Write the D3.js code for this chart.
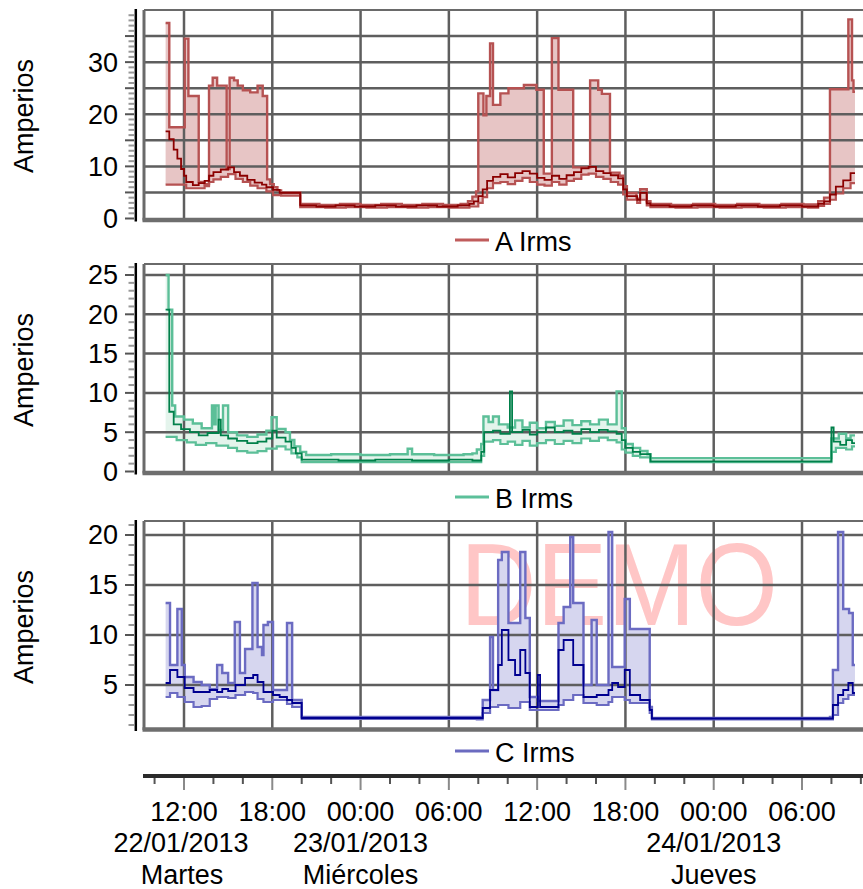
<!DOCTYPE html>
<html>
<head>
<meta charset="utf-8">
<script src="https://cdn.jsdelivr.net/npm/d3@7"></script>
<style>
  body { margin: 0; background: #fff; }
  svg { display: block; }
  text { font-family: "Liberation Sans", Arial, sans-serif; fill: #000; }
</style>
</head>
<body>
<div id="chart"></div>
<script>
// tiempos en horas desde 22/01/2013 00:00, valores en amperios
const aMax = [[10.75,37.5],[11.0,17.5],[12.05,34.5],[12.3,23.5],[13.0,7.0],[13.4,6.6],[13.7,25.5],[13.95,27.0],[14.25,25.5],[14.9,9.5],[15.1,27.0],[15.4,26.5],[15.65,25.5],[16.0,24.6],[16.5,24.2],[17.0,25.5],[17.35,23.5],[17.65,7.5],[17.85,6.6],[18.1,6.0],[18.35,5.4],[18.6,5.0],[19.9,2.8],[21.2,2.6],[22.6,2.8],[24.0,2.6],[25.4,2.8],[26.8,2.6],[28.2,2.8],[29.6,2.6],[30.8,2.8],[31.3,3.3],[31.6,4.2],[31.85,5.2],[32.0,24.0],[32.35,19.8],[32.55,23.5],[32.8,33.6],[33.0,21.8],[33.5,24.0],[34.05,25.0],[35.1,25.6],[35.95,24.7],[36.45,8.6],[37.0,34.6],[37.45,24.7],[38.45,9.8],[39.6,26.5],[40.15,24.7],[40.4,23.9],[40.95,8.8],[41.6,8.2],[41.85,6.2],[42.1,4.9],[42.75,3.8],[43.0,5.6],[43.45,3.3],[43.7,2.8],[45.1,2.6],[46.6,2.8],[48.1,2.6],[49.6,2.8],[51.1,2.6],[52.6,2.8],[54.1,2.7],[55.1,3.3],[55.5,4.0],[55.9,24.8],[57.15,38.2],[57.4,26.5],[57.5,24.3],[57.6,24.3]];
const aAvg = [[10.75,16.7],[11.0,15.2],[11.3,13.2],[11.55,11.5],[11.8,9.5],[12.0,8.2],[12.15,7.0],[12.6,6.4],[13.0,6.8],[13.4,7.2],[13.7,8.2],[14.0,8.9],[14.5,9.4],[15.0,9.8],[15.4,8.9],[15.8,8.2],[16.3,7.4],[16.8,6.9],[17.3,6.5],[17.6,6.0],[18.05,5.5],[18.5,4.9],[19.9,2.5],[21.0,2.3],[22.3,2.5],[23.6,2.3],[25.0,2.5],[26.4,2.3],[27.8,2.5],[29.2,2.3],[30.6,2.5],[31.4,2.8],[31.7,3.3],[32.0,4.3],[32.3,5.6],[32.6,7.2],[33.0,8.0],[33.5,8.5],[34.0,7.9],[34.5,8.7],[35.0,9.1],[35.5,8.6],[36.0,7.8],[36.5,7.4],[37.0,8.2],[37.5,7.6],[38.0,8.3],[38.5,8.9],[39.0,9.6],[39.5,9.9],[40.0,9.1],[40.5,8.7],[41.0,8.3],[41.5,7.7],[41.85,5.6],[42.1,4.3],[42.8,3.6],[43.0,4.9],[43.45,2.9],[43.7,2.5],[45.0,2.3],[46.5,2.5],[48.0,2.3],[49.5,2.5],[51.0,2.3],[52.5,2.5],[54.0,2.3],[55.1,2.8],[55.5,3.3],[55.9,4.6],[56.3,6.1],[56.8,7.3],[57.3,8.7],[57.6,8.7]];
const aMin = [[10.75,6.5],[12.15,5.8],[13.0,5.8],[13.4,6.2],[13.7,7.0],[14.0,7.5],[14.5,8.0],[15.0,8.5],[15.5,7.6],[16.0,7.0],[16.5,6.3],[17.0,5.8],[17.6,5.2],[18.05,4.5],[18.6,4.4],[19.9,2.2],[21.6,2.1],[23.0,2.2],[24.4,2.1],[25.8,2.2],[27.2,2.1],[28.6,2.2],[30.0,2.1],[31.4,2.3],[32.0,3.0],[32.3,4.1],[32.6,5.8],[33.0,6.8],[33.5,7.0],[34.0,6.6],[34.5,7.2],[35.0,7.8],[35.5,7.0],[36.0,6.5],[36.5,6.3],[37.0,7.0],[37.5,6.5],[38.0,7.2],[38.5,7.6],[39.0,8.4],[39.5,8.6],[40.0,8.0],[40.5,7.6],[41.0,7.0],[41.5,6.5],[41.85,4.6],[42.1,3.6],[42.8,3.0],[43.0,3.6],[43.45,2.5],[43.7,2.2],[45.4,2.1],[46.9,2.2],[48.4,2.1],[49.9,2.2],[51.4,2.1],[52.9,2.2],[54.4,2.1],[55.1,2.4],[55.5,2.8],[55.9,3.6],[56.3,4.8],[56.8,5.8],[57.3,6.8],[57.6,6.8]];

const bMax = [[10.75,25.0],[10.95,20.6],[11.2,8.4],[11.4,7.0],[12.0,6.6],[12.6,6.1],[13.2,5.5],[13.9,8.4],[14.05,6.0],[14.15,8.4],[14.35,5.3],[14.65,8.4],[15.0,5.0],[15.6,4.6],[16.3,4.4],[17.0,4.7],[17.6,5.2],[17.95,6.9],[18.3,5.4],[18.9,5.0],[19.2,4.0],[19.5,3.2],[19.9,2.5],[20.3,2.1],[22.0,2.2],[24.0,2.1],[26.0,2.2],[27.2,2.9],[27.5,2.2],[29.0,2.1],[31.0,2.2],[31.6,2.3],[31.9,2.8],[32.2,3.5],[32.35,7.0],[32.7,6.3],[33.0,7.0],[33.4,6.0],[34.0,5.6],[34.5,6.5],[35.0,5.6],[35.5,6.2],[36.0,5.5],[36.6,6.3],[37.2,5.8],[37.8,6.5],[38.4,5.9],[39.0,6.4],[39.6,6.0],[40.2,6.6],[40.8,6.0],[41.4,10.2],[41.75,5.5],[42.0,3.5],[42.5,3.0],[43.0,2.6],[43.5,2.2],[43.7,1.7],[55.8,1.7],[56.0,4.2],[56.5,4.8],[57.0,4.2],[57.3,4.6],[57.6,4.6]];
const bAvg = [[10.75,20.6],[11.0,7.6],[11.3,6.0],[11.8,5.4],[12.4,5.0],[13.0,4.6],[13.6,4.9],[14.35,6.6],[14.5,4.6],[15.0,4.2],[15.6,3.9],[16.3,3.6],[17.0,3.8],[17.6,4.2],[18.0,5.2],[18.3,4.3],[18.9,3.8],[19.3,3.0],[19.6,2.3],[20.0,1.5],[22.5,1.4],[25.0,1.5],[27.5,1.4],[30.0,1.5],[31.6,1.4],[32.2,2.5],[32.4,5.0],[33.0,5.2],[33.5,4.8],[34.15,10.2],[34.3,5.0],[35.0,5.3],[35.5,4.7],[36.0,5.0],[36.6,5.6],[37.2,5.0],[37.8,5.2],[38.4,4.8],[39.0,5.4],[39.6,5.0],[40.2,5.3],[40.8,5.1],[41.4,4.8],[41.75,4.0],[42.0,3.0],[42.5,2.5],[43.0,2.2],[43.7,1.3],[55.8,1.3],[56.0,5.6],[56.15,3.8],[56.6,3.4],[57.0,4.0],[57.4,3.6],[57.6,3.6]];
const bMin = [[10.75,4.4],[11.5,4.0],[12.2,3.7],[12.8,3.4],[13.5,3.6],[14.2,3.3],[15.0,3.0],[15.6,2.6],[16.3,2.4],[17.0,2.6],[17.6,2.9],[18.3,3.2],[18.9,2.8],[19.3,2.3],[19.7,1.8],[20.0,1.2],[31.6,1.2],[32.2,2.0],[32.4,3.8],[33.0,4.0],[33.5,3.5],[34.0,3.8],[34.5,3.4],[35.0,3.9],[35.5,3.3],[36.0,3.6],[36.6,4.0],[37.2,3.5],[37.8,3.9],[38.4,3.6],[39.0,4.2],[39.6,3.9],[40.2,4.3],[40.8,4.0],[41.4,3.7],[41.75,2.8],[42.0,2.4],[42.5,2.0],[43.0,1.8],[43.7,1.2],[55.8,1.2],[56.0,2.5],[56.3,3.0],[57.0,2.8],[57.4,3.2],[57.6,3.2]];

const cMax = [[10.75,13.2],[11.05,7.0],[11.55,12.6],[11.85,7.0],[12.05,5.8],[12.65,5.3],[13.2,5.0],[13.75,4.6],[14.25,7.0],[14.6,6.2],[15.0,5.2],[15.45,11.3],[15.8,6.2],[16.15,8.6],[16.65,15.2],[17.0,8.8],[17.3,8.0],[17.4,11.0],[17.7,11.3],[18.05,4.5],[19.0,11.2],[19.35,3.5],[20.0,1.8],[31.9,1.8],[32.3,3.5],[32.8,9.8],[33.0,4.5],[33.35,17.5],[33.6,18.3],[34.05,11.2],[34.85,18.3],[35.2,11.7],[35.5,3.8],[36.05,3.4],[37.45,11.2],[37.8,12.8],[38.25,19.8],[38.45,13.2],[39.15,5.0],[39.7,11.5],[40.05,5.0],[40.85,20.3],[41.1,6.8],[41.95,13.6],[42.3,10.6],[43.65,2.8],[43.8,1.7],[55.9,1.8],[56.1,6.5],[56.45,20.3],[56.8,12.6],[57.2,12.2],[57.45,7.0],[57.6,7.0]];
const cAvg = [[10.75,5.2],[11.05,6.5],[11.55,5.8],[12.05,4.7],[12.65,4.3],[13.75,4.5],[14.25,4.3],[14.6,4.6],[15.0,4.4],[15.5,5.0],[16.15,5.7],[16.7,6.0],[17.0,5.3],[17.4,4.3],[18.05,4.0],[18.5,3.8],[19.0,3.5],[19.35,3.2],[20.0,1.7],[31.9,1.7],[32.3,2.7],[32.8,4.5],[33.35,7.0],[33.6,10.5],[34.05,7.5],[34.5,6.0],[34.85,8.5],[35.2,6.2],[35.5,2.8],[36.05,6.0],[36.2,2.8],[37.45,8.5],[37.8,9.5],[38.45,7.0],[39.15,3.8],[40.05,4.0],[40.85,4.5],[41.1,5.2],[41.5,4.8],[41.95,6.5],[42.3,4.0],[43.0,3.5],[43.65,2.5],[43.8,1.65],[55.9,1.65],[56.1,3.0],[56.45,4.0],[56.8,4.5],[57.15,5.2],[57.45,4.2],[57.6,4.2]];
const cMin = [[10.75,3.8],[11.05,4.2],[11.55,3.8],[12.05,3.3],[12.65,2.8],[13.2,2.9],[13.75,3.6],[14.25,3.8],[15.0,3.7],[15.5,4.0],[16.15,4.3],[16.7,4.2],[17.0,3.6],[17.4,3.3],[18.05,3.5],[19.0,3.1],[19.35,2.8],[20.0,1.6],[31.9,1.55],[32.3,2.2],[32.8,2.8],[33.35,3.0],[34.05,2.7],[34.85,3.3],[35.5,2.5],[37.45,3.0],[37.8,3.5],[38.45,4.0],[39.15,3.2],[40.05,3.0],[40.85,3.3],[41.1,3.8],[41.95,3.5],[42.3,3.2],[43.65,2.2],[43.8,1.55],[55.9,1.55],[56.1,2.0],[56.45,3.2],[56.8,3.6],[57.15,4.0],[57.6,4.0]];

// eje de tiempo
const dayAnchors = [12, 24, 48];
const dayLabels = ["22/01/2013", "23/01/2013", "24/01/2013"];
const dayNames = ["Martes", "Miércoles", "Jueves"];
const seriesNames = ["A Irms", "B Irms", "C Irms"];
const yAxisTitle = "Amperios";

const W = 863, H = 889;
const plotLeft = 144;

const svg = d3.select("#chart").append("svg")
  .attr("width", W)
  .attr("height", H);

const t0 = new Date(2013, 0, 22);
const toDate = h => new Date(t0.getTime() + h * 3600e3);
const x = d3.scaleTime().domain([toDate(12), toDate(54)]).range([184, 802]);

// marca de agua
svg.append("text")
  .attr("x", 460).attr("y", 625)
  .attr("textLength", 318).attr("lengthAdjust", "spacingAndGlyphs")
  .style("font-size", "116px")
  .style("fill", "#ffc6c6")
  .text("DEMO");

const panels = [
  { name: seriesNames[0], max: aMax, avg: aAvg, min: aMin, top: 10, bottom: 218.5, dom: [0, 40], labelStep: 10,
    fill: "#e7c5c5", edge: "#b65252", dark: "#8b0000", legend: "#c05c5c", legendY: 240, titleY: 116 },
  { name: seriesNames[1], max: bMax, avg: bAvg, min: bMin, top: 264, bottom: 471.5, dom: [0, 26.4], labelStep: 5,
    fill: "#e4f4ec", edge: "#5cbf98", dark: "#00804a", legend: "#5cc09a", legendY: 497, titleY: 370 },
  { name: seriesNames[2], max: cMax, avg: cAvg, min: cMin, top: 521, bottom: 728, dom: [0.7, 21.4], labelStep: 5,
    fill: "#d6d6ef", edge: "#6b6bc2", dark: "#000090", legend: "#6b6bc0", legendY: 751, titleY: 627 }
];

const bis = d3.bisector(d => d[0]).right;
function valueAt(pts, h) {
  const i = bis(pts, h) - 1;
  return pts[Math.max(0, i)][1];
}

panels.forEach((p, k) => {
  const y = d3.scaleLinear().domain(p.dom).range([p.bottom, p.top]);
  const g = svg.append("g");

  const clipId = "clip" + k;
  svg.append("clipPath").attr("id", clipId)
    .append("rect")
    .attr("x", plotLeft + 1).attr("y", p.top)
    .attr("width", W - plotLeft).attr("height", p.bottom - p.top);

  // banda min-max
  const times = Array.from(new Set(p.max.map(d => d[0]).concat(p.min.map(d => d[0])))).sort((a, b) => a - b);
  const band = times.map(h => ({ h: h, hi: valueAt(p.max, h), lo: valueAt(p.min, h) }));
  g.append("path")
    .attr("clip-path", `url(#${clipId})`)
    .attr("d", d3.area().curve(d3.curveStepAfter)
      .x(d => x(toDate(d.h))).y0(d => y(d.lo)).y1(d => y(d.hi))(band))
    .attr("fill", p.fill);

  // rejilla
  const gridVals = d3.range(5, p.dom[1], 5).filter(v => v > p.dom[0]);
  g.selectAll(".hgrid").data(gridVals).enter().append("line")
    .attr("x1", plotLeft).attr("x2", W)
    .attr("y1", d => y(d)).attr("y2", d => y(d))
    .attr("stroke", "#5e5e5e").attr("stroke-width", 2.5);
  g.selectAll(".vgrid").data(d3.range(12, 58, 6)).enter().append("line")
    .attr("x1", d => x(toDate(d))).attr("x2", d => x(toDate(d)))
    .attr("y1", p.top).attr("y2", p.bottom)
    .attr("stroke", "#5e5e5e").attr("stroke-width", 2.5);

  // marco
  g.append("line").attr("x1", plotLeft).attr("x2", W).attr("y1", p.top).attr("y2", p.top)
    .attr("stroke", "#6a6a6a").attr("stroke-width", 2);
  g.append("line").attr("x1", plotLeft).attr("x2", plotLeft).attr("y1", p.top).attr("y2", p.bottom + 2)
    .attr("stroke", "#6a6a6a").attr("stroke-width", 3);
  g.append("line").attr("x1", plotLeft - 1.5).attr("x2", W).attr("y1", p.bottom + 1.5).attr("y2", p.bottom + 1.5)
    .attr("stroke", "#6e6e6e").attr("stroke-width", 4.5);

  // eje Y
  g.append("line").attr("x1", 135.8).attr("x2", 135.8).attr("y1", p.top - 1).attr("y2", p.bottom + 3)
    .attr("stroke", "#000").attr("stroke-width", 2.5);
  const minor = d3.range(Math.ceil(p.dom[0]), p.dom[1], 1);
  g.selectAll(".ytick").data(minor).enter().append("line")
    .attr("x1", d => d % 5 === 0 ? 125 : 128.5).attr("x2", 134)
    .attr("y1", d => y(d)).attr("y2", d => y(d))
    .attr("stroke", d => d % 5 === 0 ? "#555" : "#999").attr("stroke-width", 2);
  const labels = d3.range(0, p.dom[1], p.labelStep).filter(v => v >= p.dom[0]);
  g.selectAll(".ylab").data(labels).enter().append("text")
    .attr("x", 118).attr("y", d => y(d)).attr("dy", "0.35em")
    .attr("text-anchor", "end")
    .style("font-size", "27px")
    .text(d => d);
  g.append("text")
    .attr("transform", `translate(33,${p.titleY}) rotate(-90)`)
    .attr("text-anchor", "middle")
    .style("font-size", "27px")
    .text(yAxisTitle);

  // lineas
  const line = d3.line().curve(d3.curveStepAfter)
    .x(d => x(toDate(d[0]))).y(d => y(d[1]));
  const lines = g.append("g").attr("clip-path", `url(#${clipId})`).attr("fill", "none");
  lines.append("path").attr("d", line(p.min)).attr("stroke", p.edge).attr("stroke-width", 2.2);
  lines.append("path").attr("d", line(p.max)).attr("stroke", p.edge).attr("stroke-width", 2.4);
  lines.append("path").attr("d", line(p.avg)).attr("stroke", p.dark).attr("stroke-width", 1.8);

  // leyenda
  g.append("line").attr("x1", 455).attr("x2", 489).attr("y1", p.legendY).attr("y2", p.legendY)
    .attr("stroke", p.legend).attr("stroke-width", 3);
  g.append("text").attr("x", 495).attr("y", p.legendY + 11)
    .style("font-size", "27px")
    .text(p.name);
});

// eje de tiempo inferior
const axisY = 776;
svg.append("line").attr("x1", 143).attr("x2", W).attr("y1", axisY).attr("y2", axisY)
  .attr("stroke", "#2a2a2a").attr("stroke-width", 4);
const tickHours = d3.range(10, 59, 2);
svg.selectAll(".xtick").data(tickHours).enter().append("line")
  .attr("x1", d => x(toDate(d))).attr("x2", d => x(toDate(d)))
  .attr("y1", axisY + 2).attr("y2", d => d % 6 === 0 ? axisY + 14 : axisY + 8)
  .attr("stroke", d => d % 6 === 0 ? "#8a8a8a" : "#555").attr("stroke-width", 2);
const fmt = d3.timeFormat("%H:%M");
svg.selectAll(".xlab").data(d3.range(12, 58, 6)).enter().append("text")
  .attr("x", d => x(toDate(d))).attr("y", 821)
  .attr("text-anchor", "middle")
  .style("font-size", "27px")
  .text(d => fmt(toDate(d)));
svg.selectAll(".dlab").data(dayAnchors).enter().append("text")
  .attr("x", d => x(toDate(d)) - (d === 12 ? 3 : 0)).attr("y", 852)
  .attr("text-anchor", "middle")
  .style("font-size", "27px")
  .text((d, i) => dayLabels[i]);
svg.selectAll(".wlab").data(dayAnchors).enter().append("text")
  .attr("x", d => x(toDate(d)) - (d === 12 ? 2 : 0)).attr("y", 884)
  .attr("text-anchor", "middle")
  .style("font-size", "27px")
  .text((d, i) => dayNames[i]);
</script>
</body>
</html>
